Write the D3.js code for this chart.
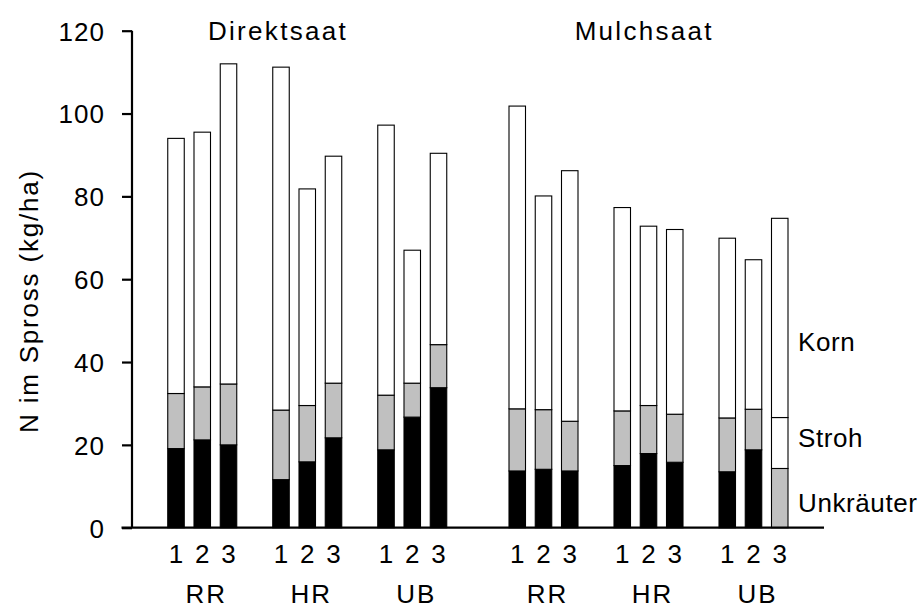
<!DOCTYPE html>
<html>
<head>
<meta charset="utf-8">
<script src="https://cdn.jsdelivr.net/npm/d3@7"></script>
<style>
  html, body { margin: 0; padding: 0; background: #fff; }
  text { font-family: Arial, "Liberation Sans", sans-serif; fill: #000; }
</style>
</head>
<body>
<svg id="chart" width="919" height="608"></svg>
<script>
// ---- data ----
const systems = ["Direktsaat", "Mulchsaat"];
const groups = ["RR", "HR", "UB"];
const reps = ["1", "2", "3"];
const seriesNames = ["Unkräuter", "Stroh", "Korn"];
const unkraeuter = [19.1, 21.2, 20.0, 11.6, 15.9, 21.7, 18.8, 26.7, 33.8,
                    13.7, 14.1, 13.7, 15.0, 17.9, 15.8, 13.5, 18.8, 14.3];
const stroh      = [13.3, 12.8, 14.7, 16.8, 13.6, 13.2, 13.2, 8.2, 10.4,
                    15.0, 14.4, 12.0, 13.2, 11.6, 11.6, 13.0, 9.8, 12.3];
const korn       = [61.6, 61.5, 77.3, 82.8, 52.3, 54.8, 65.2, 32.1, 46.2,
                    73.1, 51.6, 60.5, 49.1, 43.3, 44.6, 43.4, 36.1, 48.1];
const yTicks = [0, 20, 40, 60, 80, 100, 120];

// ---- build rows ----
const rows = [];
systems.forEach((s, si) => groups.forEach((g, gi) => reps.forEach((r, ri) => {
  const i = rows.length;
  rows.push({ system: s, group: g, rep: r, slot: si * 13 + gi * 4 + ri,
              "Unkräuter": unkraeuter[i], "Stroh": stroh[i], "Korn": korn[i] });
})));

// ---- styles ----
const fills = ["#000000", "#c0c0c0", "#ffffff"];
const lastBarFills = ["#c0c0c0", "#ffffff", "#ffffff"];
const barW = 16.5;
const fs = "26px";

const svg = d3.select("#chart");
const y = d3.scaleLinear().domain([0, 120]).range([527.7, 30.7]);
const x = d3.scaleLinear().domain([0, 23]).range([176, 779.75]);

const stack = d3.stack().keys(seriesNames)(rows);

stack.forEach((layer, li) => {
  svg.append("g").selectAll("rect").data(layer).join("rect")
    .attr("x", d => x(d.data.slot) - barW / 2)
    .attr("width", barW)
    .attr("y", d => y(d[1]))
    .attr("height", d => y(d[0]) - y(d[1]))
    .attr("fill", (d, i) => i === rows.length - 1 ? lastBarFills[li] : fills[li])
    .attr("stroke", "#000")
    .attr("stroke-width", 1.1);
});

// y axis
const yAxis = svg.append("g").attr("transform", "translate(132,0)")
  .call(d3.axisLeft(y).tickValues(yTicks).tickSize(10).tickPadding(17).tickFormat(d3.format("d")));
yAxis.select(".domain").attr("stroke-width", 2.2).attr("d", `M0,${y(120)}V${y(0)}`);
yAxis.selectAll(".tick line").attr("stroke-width", 2.2);
yAxis.selectAll(".tick text").style("font-size", fs).attr("dy", "0.36em")
  .style("font-family", "Arial, 'Liberation Sans', sans-serif").style("letter-spacing", "1px");

// x axis baseline
svg.append("line").attr("x1", 121.5).attr("x2", 824).attr("y1", y(0)).attr("y2", y(0))
  .attr("stroke", "#000").attr("stroke-width", 2.2);

// rep labels
svg.append("g").selectAll("text").data(rows).join("text")
  .attr("x", d => x(d.slot)).attr("y", 563)
  .attr("text-anchor", "middle").style("font-size", fs)
  .text(d => d.rep);

// group labels
const groupRows = rows.filter(d => d.rep === "2");
svg.append("g").selectAll("text").data(groupRows).join("text")
  .attr("x", d => x(d.slot) + 4).attr("y", 603)
  .attr("text-anchor", "middle").style("font-size", fs).style("letter-spacing", "2px")
  .text(d => d.group);

// system titles
const titleShift = [-3, 22];
const sysCenters = systems.map((s, si) => {
  const r = rows.filter(d => d.system === s && d.group === groups[1] && d.rep === "1")[0];
  return { s, slot: r.slot, si };
});
svg.append("g").selectAll("text").data(sysCenters).join("text")
  .attr("x", d => x(d.slot) + titleShift[d.si]).attr("y", 40)
  .attr("text-anchor", "middle").style("font-size", fs).style("letter-spacing", "2.3px")
  .text(d => d.s);

// legend labels
const legendY = [511.7, 446.7, 350.7];
svg.append("g").selectAll("text").data(seriesNames).join("text")
  .attr("x", 798).attr("y", (d, i) => legendY[i])
  .style("font-size", fs).style("letter-spacing", "0.6px")
  .text(d => d);

// y label
svg.append("text")
  .attr("transform", "translate(38,301) rotate(-90)")
  .attr("text-anchor", "middle").style("font-size", fs).style("letter-spacing", "1.8px")
  .text("N im Spross (kg/ha)");
</script>
</body>
</html>
